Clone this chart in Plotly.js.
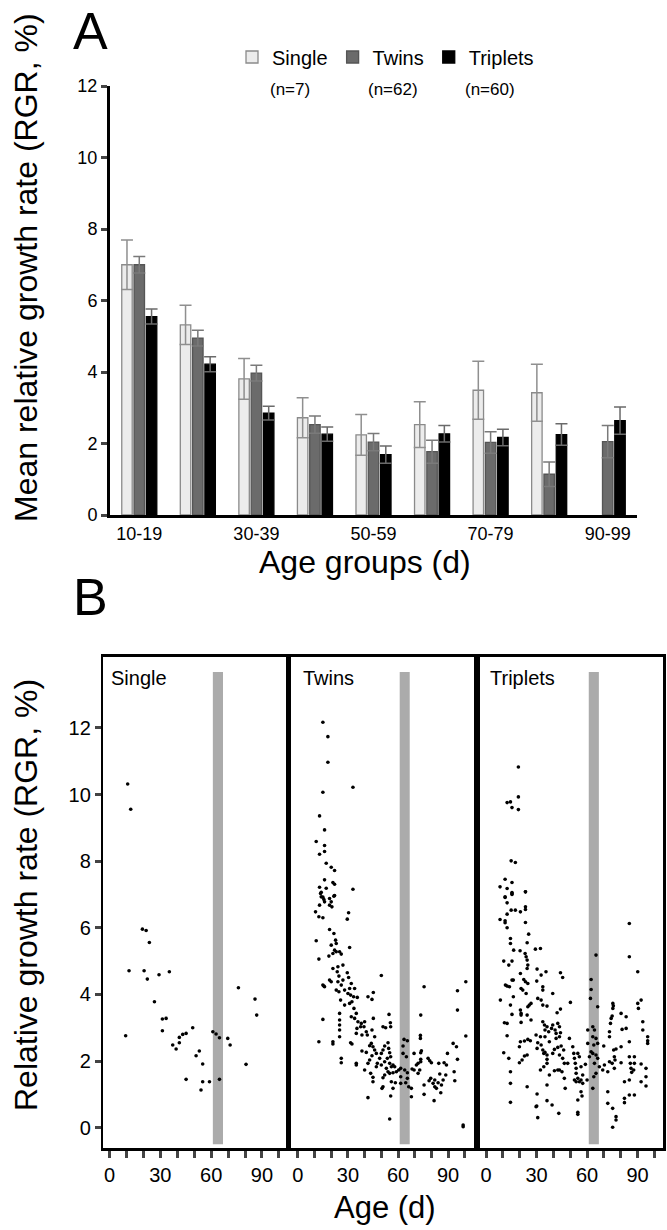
<!DOCTYPE html>
<html>
<head>
<meta charset="utf-8">
<script src="https://cdn.plot.ly/plotly-3.0.1.min.js"></script>
<style>html,body{margin:0;padding:0;background:#fff;}#chart{width:667px;height:1230px;}</style>
</head>
<body>
<div id="chart"></div>
<script>
// ---------- Panel A data ----------
const ageGroups = ['10-19','20-29','30-39','40-49','50-59','60-69','70-79','80-89','90-99'];
const shownGroupTicks = ['10-19','30-39','50-59','70-79','90-99'];
const singleMean = [7.0, 5.32, 3.81, 2.72, 2.24, 2.53, 3.49, 3.42, null];
const singleErr  = [0.69, 0.55, 0.57, 0.56, 0.57, 0.64, 0.81, 0.80, null];
const twinsMean  = [7.0, 4.95, 3.97, 2.53, 2.04, 1.77, 2.03, 1.14, 2.05];
const twinsErr   = [0.23, 0.22, 0.22, 0.24, 0.24, 0.32, 0.30, 0.34, 0.45];
const tripMean   = [5.55, 4.22, 2.85, 2.26, 1.69, 2.27, 2.17, 2.25, 2.64];
const tripErr    = [0.21, 0.21, 0.19, 0.20, 0.24, 0.23, 0.23, 0.30, 0.38];
const seriesNames = ['Single','Twins','Triplets'];
const seriesN = ['(n=7)','(n=62)','(n=60)'];

// ---------- Panel B data: [age (d), RGR (%)] ----------
const singleAgeRGR = [
 [9.5,2.76],[11.5,4.71],[19.4,5.96],[21.6,5.92],[23.5,5.56],[20.4,4.71],[22.3,4.46],[26.5,3.78],[29.2,4.59],[35.3,4.68],
 [31.2,3.26],[33.4,3.28],[31.2,2.91],[37.3,2.48],[39.3,2.36],[41.2,2.55],[41.2,2.71],[43.2,2.80],[45.2,2.83],[49.1,3.00],
 [45.2,1.45],[51.1,2.16],[53.0,2.30],[55.0,1.91],[55.0,1.38],[54.0,1.13],[59.0,1.38],[61.0,2.88],[62.9,2.81],[64.9,2.70],
 [64.9,1.45],[69.8,2.68],[71.2,2.48],[76.1,4.20],[80.6,1.90],[85.9,3.86],[86.9,3.38],[10.7,10.32],[12.5,9.56]
];
const twinsAgeRGR = [
 [15,12.17],[18,11.74],[18,10.97],[33,10.22],[15,10.07],[13,9.36],[16,8.94],[11,8.59],[16,8.47],[13,8.21],
 [16,8.29],[17,7.94],[20,7.82],[22,7.72],[16,7.44],[21,7.36],[22,7.31],[13,7.22],[17,7.19],[33,7.16],
 [14,7.07],[22,6.97],[15,6.92],
 [13.6,7.03],[14,6.93],[15.6,6.85],[16,6.78],[19,6.88],[20,6.78],[19,6.68],[21.6,6.95],[20.4,6.63],[13,6.68],
 [10.6,6.48],[12.6,6.33],[15,6.30],[30.4,6.45],[29.6,6.26],
 [19,5.95],[21.6,5.83],[22.6,5.63],[23,5.53],[22,5.33],[11,5.61],[20,5.48],[21,5.23],[23,5.28],[25,5.28],
 [26,5.21],[31,5.41],[12.6,5.06],[18.6,5.15],
 [21,4.78],[24,4.83],[27,4.88],[23.6,4.68],[24.6,4.55],[29.6,4.65],[30.4,4.51],[27,4.43],[50,4.57],[19,4.43],
 [20,4.38],[15,4.28],[15.6,4.25],[16,4.23],[24,4.38],[26,4.28],[32,4.33],[31,4.18],[23,4.13],[24.6,4.08],
 [28,4.13],[34,4.18],[30,4.03],[31.6,3.98],[33.4,3.93],[35.6,3.91],[42,3.93],[44.4,3.85],[45.2,4.06],[25.6,3.83],
 [28,3.68],[31,3.73],[32.4,3.78],[33.6,3.58],[35,3.43],[25,3.43],[32,3.33],[34,3.28],[36,3.18],[38,3.13],
 [39.6,3.03],[37.6,3.03],[40,3.18],[41,2.88],[35.4,2.98],[35,2.83],[38.4,2.78],[41.6,2.78],[44.4,2.93],[45.2,3.28],
 [46,2.73],[51,3.03],[52.6,3.00],[54.6,3.40],[55.4,3.15],[55.6,3.03],[25,3.23],[25,3.08],[25,2.93],[25,2.73],
 [15,3.25],[12.6,2.58],[21,2.58],[21,2.51],[31.6,2.55],[32.4,2.51],[38.4,2.30],[41,2.26],[43,2.46],[44,2.53],
 [45,2.43],[46,2.33],[47,2.23],[44.4,2.16],[43,2.03],[42,1.93],[40,1.73],[43.6,1.63],[45,1.51],[45,1.38],
 [47,1.83],[47.6,1.93],[49,2.08],[50,2.23],[51,2.33],[52,2.45],[54,2.55],[54.4,2.38],[55,2.25],[55.6,2.13],
 [53.6,2.08],[52,1.98],[50,1.88],[53,1.78],[54,1.68],[52,1.58],[51,1.50],[55,1.93],[56,1.83],[57,1.88],
 [58,1.83],[59,1.68],[60.4,1.73],[57,1.65],[55,1.63],[56,1.38],[57,1.18],[55.6,0.95],[51,1.23],[50.4,1.18],
 [58.4,1.35],[26,2.08],[26,1.95],[35,1.93],[35,1.88],[42,0.90],[55,0.26],
 [63.6,2.65],[65.6,2.61],[63,2.45],[63,2.23],[65,2.13],[64,1.73],[65.6,1.65],[65.6,1.48],[64.6,1.35],[66.4,1.23],
 [68,1.18],[68,0.93],[61.6,1.53],[61.6,1.33],[61.6,1.78],[69.6,2.23],[68.4,1.76],[69.6,1.73],[71,1.88],[72,1.93],
 [72,1.63],[73,1.73],[73.6,2.25],[74,2.31],[73.6,2.05],[73.6,1.98],[73.6,3.38],[75.6,4.23],[73.4,2.77],[73.4,2.68],
 [75.6,1.28],[75.6,1.00],[78,2.08],[79,2.01],[80,1.95],[78.6,1.41],[79.6,1.48],[81,1.33],[81.6,0.81],[82,1.43],
 [82,1.23],[83,1.18],[84,1.35],[84.4,1.93],[85,1.61],[85.6,1.05],[86,1.28],[87,1.43],[87.6,1.95],[89,1.88],
 [89.6,2.23],[88.6,1.58],[93,2.53],[93.6,1.68],[94,1.41],[95,2.43],[95.6,2.05],[95.6,3.53],[95.6,4.11],[100.6,4.38],
 [100.6,2.75],[99,0.08],[99,0.03]
];
const tripletsAgeRGR = [
 [19.2,10.83],[19.2,9.93],[12.5,9.76],[14.5,9.78],[15.4,9.61],[19.2,9.55],[14.9,8.01],[17.4,7.96],[11.3,7.46],[15.4,7.36],
 [8.3,7.23],[12.5,7.18],[15.4,7.06],[15.4,7.00],[23.4,7.08],[11.3,6.91],
 [11.3,6.93],[12.5,6.75],[15.4,7.03],[23.4,7.08],[14.9,6.53],[17.4,6.53],[20.4,6.48],[23.4,6.63],[23.4,6.55],[12.5,6.41],
 [8.3,6.25],[11.3,6.21],[11.3,6.15],[12.5,6.00],[23.4,6.16],[14.5,5.68],[14.5,5.53],[16.4,5.33],[20.2,5.31],[24.4,5.55],
 [25.3,5.81],[23.2,5.23],[23.8,5.13],[24.4,5.03],[24.8,4.88],[24.4,4.78],[29.3,5.36],[32.3,5.38],[10.5,5.00],[15.4,5.00],
 [13.5,4.88],[20.4,4.63],[22.4,4.45],[23.4,4.38],[24.8,4.33],[30.3,4.76],[35.6,4.68],[32.7,4.58],[30.1,4.40],[33.7,4.23],
 [33.7,4.13],[44.2,4.65],[45.5,4.51],[15.4,4.43],[11.5,4.28],[12.5,4.25],[13.9,4.23],[16.2,4.43],[20.8,4.18],[21.8,4.13],
 [23.8,4.03],[39.6,4.03],[8.5,3.83],[14.5,3.68],[16.2,3.93],[20.4,3.53],[20.8,3.43],[24.8,3.63],[25.7,3.68],[26.7,3.73],
 [30.7,3.88],[32.7,3.83],[33.7,3.68],[36.2,3.65],[44.2,3.56],[50.1,3.76],[42.2,3.45],[15.4,3.40],[20.8,3.38],[24.4,3.38],
 [26.7,3.23],[10.9,3.15],[12.5,3.13],[20.8,3.16],[12.5,2.76],[33.7,3.18],[34.7,3.08],[36.2,3.03],[39.6,3.08],[35.0,2.93],
 [37.2,2.88],[38.9,2.98],[41.0,2.93],[41.6,2.83],[42.6,3.13],[43.6,3.03],[44.2,2.85],[43.6,2.73],[41.6,2.68],[37.6,2.58],
 [35.0,2.73],[32.3,2.73],[29.7,2.78],[30.7,2.55],[30.3,2.38],[32.7,2.48],[33.7,2.33],[34.3,2.23],[35.0,2.26],[36.2,2.18],
 [36.2,2.05],[36.2,1.93],[39.6,2.23],[40.6,2.35],[42.6,2.41],[44.6,2.45],[46.1,2.33],[43.6,2.18],[45.5,2.08],[46.5,1.93],
 [48.5,1.93],[42.6,1.73],[45.1,1.68],[46.5,1.48],[47.0,1.18],[43.6,1.73],[40.6,1.71],[32.3,1.73],[34.3,1.83],[37.6,1.58],
 [36.2,1.28],[30.3,1.01],[30.1,0.65],[29.7,0.63],[30.7,0.30],[36.2,0.81],[39.2,0.68],[43.2,0.43],[24.4,1.23],[10.5,2.25],
 [13.5,2.08],[14.5,1.68],[14.5,1.33],[14.5,0.76],[19.8,2.43],[20.4,2.58],[22.8,2.60],[24.8,2.65],[26.3,2.61],[19.8,1.95],
 [21.4,2.03],[22.8,2.15],[24.4,2.18],[49.5,2.68],[51.5,2.43],[52.1,2.23],[52.5,2.08],[53.0,1.93],[53.5,1.78],[53.5,1.63],
 [52.5,1.43],[53.5,1.38],[54.5,1.48],[55.4,1.38],[56.4,1.43],[57.4,1.33],[57.4,1.58],[56.4,1.83],[55.4,2.13],[54.5,2.23],
 [59.0,1.90],[60.0,1.43],[60.4,2.53],[60.4,2.93],[56.4,1.08],[57.0,0.95],[54.5,0.83],[54.5,0.46],[54.5,0.40],[62.4,4.45],
 [62.4,4.15],[62.0,3.88],[65.3,5.18],[66.3,3.63],[63.4,3.03],[64.4,2.93],[63.4,2.73],[65.3,2.68],[64.0,2.48],[66.3,2.53],
 [63.4,2.23],[65.3,2.18],[66.3,2.08],[64.4,1.93],[67.3,1.83],[65.3,1.63],[64.0,1.53],[63.4,1.18],[62.4,2.28],[61.4,2.13],
 [69.9,2.45],[70.3,1.88],[69.3,1.73],[72.3,1.68],[72.3,1.08],[72.3,0.73],[75.2,0.58],[77.2,0.33],[77.2,0.23],[75.2,0.01],
 [73.3,2.73],[73.3,2.88],[73.9,3.13],[74.3,3.28],[74.9,3.35],[75.3,3.73],[75.6,3.66],[75.3,3.58],[75.8,2.33],[76.2,2.13],
 [76.6,2.03],[77.2,2.36],[76.2,1.78],[74.9,1.93],[73.3,1.98],[80.2,3.43],[83.2,3.33],[83.2,2.98],[80.8,2.95],[80.2,2.43],
 [80.2,1.95],[82.2,1.38],[85.1,2.58],[85.1,2.13],[85.7,1.93],[86.1,1.78],[86.5,1.66],[85.1,1.43],[85.1,0.98],[82.2,0.88],
 [82.2,0.75],[88.1,0.98],[85.1,6.13],[85.1,5.13],[90.1,4.68],[90.1,3.73],[90.5,3.58],[92.1,3.83],[93.1,3.18],[93.1,2.93],
 [88.1,2.13],[88.1,1.93],[92.1,1.91],[92.1,1.38],[95.0,1.78],[95.0,1.53],[95.0,1.25],[96.0,2.73],[96.0,2.61],[96.0,2.53],
 [87.7,1.73]
];
const panelNames = ['Single','Twins','Triplets'];
const stripeDays = [61, 67];            // shaded age window
const xTickVals = [0,10,20,30,40,50,60,70,80,90,100];
const xTickText = ['0','','','30','','','60','','','90',''];

// ---------- geometry helpers (pixel -> paper) ----------
const W = 667, H = 1230;
const px = v => v / W;
const py = v => 1 - v / H;

const FONT = 'Liberation Sans, Arial, Helvetica, sans-serif';

// ---------- traces ----------
const barStyles = [
  {fill:'#ececec', line:'#8a8a8a', err:'#8f8f8f'},
  {fill:'#6b6b6b', line:'#555555', err:'#7a7a7a'},
  {fill:'#000000', line:'#000000', err:'#6a6a6a'}
];
const means = [singleMean, twinsMean, tripMean];
const errs = [singleErr, twinsErr, tripErr];
const traces = [];
for (let i = 0; i < 3; i++) {
  traces.push({
    type:'bar', name: seriesNames[i], x: ageGroups, y: means[i],
    xaxis:'x', yaxis:'y',
    marker:{color: barStyles[i].fill, line:{color: barStyles[i].line, width:1.3}},
    error_y:{type:'data', array: errs[i], visible:true, color: barStyles[i].err, thickness:1.5, width:6},
    showlegend:true
  });
}
const scatterSets = [singleAgeRGR, twinsAgeRGR, tripletsAgeRGR];
for (let i = 0; i < 3; i++) {
  traces.push({
    type:'scatter', mode:'markers', name: panelNames[i] + ' RGR',
    x: scatterSets[i].map(p => p[0]), y: scatterSets[i].map(p => p[1]),
    xaxis: 'x' + (i + 2), yaxis: 'y' + (i + 2),
    marker:{color:'#000', size:3.6},
    showlegend:false, hoverinfo:'x+y'
  });
}

// ---------- layout ----------
const axLine = {showline:true, linecolor:'#000', showgrid:false, zeroline:false};
const layout = {
  width: W, height: H,
  margin:{l:0, r:0, t:0, b:0},
  paper_bgcolor:'#fff', plot_bgcolor:'#fff',
  font:{family: FONT, color:'#000'},
  barmode:'group', bargap:0.37, bargroupgap:0.15,
  showlegend:true,
  legend:{orientation:'h', x: px(232), xanchor:'left', y: py(57), yanchor:'middle',
          font:{size:20, family: FONT}, itemwidth:30, traceorder:'normal', bgcolor:'rgba(0,0,0,0)', tracegroupgap:0},
  xaxis: Object.assign({}, axLine, {
    domain:[px(110), px(637)], anchor:'y', type:'category', categoryorder:'array', categoryarray: ageGroups,
    range:[-0.5, 8.5], tickmode:'array', tickvals: shownGroupTicks, ticktext: shownGroupTicks,
    ticks:'', linewidth:3, tickfont:{size:18}
  }),
  yaxis: Object.assign({}, axLine, {
    domain:[py(515), py(86)], anchor:'x', range:[0, 12], dtick:2, tick0:0,
    ticks:'outside', ticklen:6, tickwidth:3, linewidth:3, tickfont:{size:18}
  }),
  shapes: [],
  annotations: []
};
const panelDomX = [[px(103.3), px(286)], [px(290.5), px(474)], [px(479.5), px(663)]];
const panelRangeX = [[-3.7, 104.2], [-4.4, 105.5], [-3.9, 105.1]];
const panelLabelX = [109, 301, 488];
for (let i = 0; i < 3; i++) {
  const xn = 'xaxis' + (i + 2), yn = 'yaxis' + (i + 2);
  layout[xn] = Object.assign({}, axLine, {
    domain: panelDomX[i], anchor: 'y' + (i + 2), range: panelRangeX[i],
    tickmode:'array', tickvals: xTickVals, ticktext: xTickText,
    ticks:'outside', ticklen:7, tickwidth:3, linewidth:2.5, mirror:true, tickfont:{size:20}
  });
  layout[yn] = Object.assign({}, axLine, {
    domain:[py(1148.3), py(656.7)], anchor: 'x' + (i + 2), range:[-0.62, 14.14],
    tickmode:'array', tickvals:[0,2,4,6,8,10,12],
    ticks: i === 0 ? 'outside' : '', ticklen:6, tickwidth:3,
    showticklabels: i === 0, linewidth:2.5, mirror:true, tickfont:{size:20}
  });
  layout.shapes.push({
    type:'rect', xref:'x' + (i + 2), yref:'y' + (i + 2), layer:'below',
    x0: stripeDays[0], x1: stripeDays[1], y0: -0.5, y1: 13.68,
    fillcolor:'#ababab', line:{width:0}
  });
  layout.annotations.push({
    text: panelNames[i], xref:'paper', yref:'paper', x: px(panelLabelX[i]), y: py(678),
    xanchor:'left', yanchor:'middle', showarrow:false, font:{size:20}
  });
}
// legend sample sizes
const nX = [290, 393, 490];
for (let i = 0; i < 3; i++) {
  layout.annotations.push({text: seriesN[i], xref:'paper', yref:'paper', x: px(nX[i]), y: py(89),
    xanchor:'center', yanchor:'middle', showarrow:false, font:{size:17}});
}
// panel letters and axis titles
layout.annotations.push(
  {text:'A', xref:'paper', yref:'paper', x: px(71), y: 1, xanchor:'left', yanchor:'top', showarrow:false, font:{size:52}},
  {text:'B', xref:'paper', yref:'paper', x: px(71), y: py(566), xanchor:'left', yanchor:'top', showarrow:false, font:{size:52}},
  {text:'Mean relative growth rate (RGR, %)', xref:'paper', yref:'paper', x: px(26), y: py(268), textangle:-90,
   xanchor:'center', yanchor:'middle', showarrow:false, font:{size:32}},
  {text:'Age groups (d)', xref:'paper', yref:'paper', x: px(365), y: py(562),
   xanchor:'center', yanchor:'middle', showarrow:false, font:{size:32}},
  {text:'Relative growth rate (RGR, %)', xref:'paper', yref:'paper', x: px(26), y: py(895), textangle:-90,
   xanchor:'center', yanchor:'middle', showarrow:false, font:{size:32}},
  {text:'Age (d)', xref:'paper', yref:'paper', x: px(385), y: py(1207),
   xanchor:'center', yanchor:'middle', showarrow:false, font:{size:31}}
);

Plotly.newPlot('chart', traces, layout, {displayModeBar:false, staticPlot:true});
</script>
</body>
</html>
